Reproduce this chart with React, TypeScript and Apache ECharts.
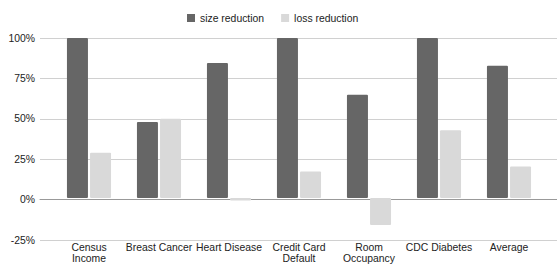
import React, { useEffect, useRef } from "react";
import * as echarts from "echarts";

const categories = ["Census Income", "Breast Cancer", "Heart Disease", "Credit Card Default", "Room Occupancy", "CDC Diabetes", "Average"];
const tickLabels = ["Census\nIncome", "Breast Cancer", "Heart Disease", "Credit Card\nDefault", "Room\nOccupancy", "CDC Diabetes", "Average"];
const sizeReduction = [100, 47.5, 84.4, 100, 64.5, 100, 82.7];
const lossReduction = [28.3, 49.6, -1.5, 16.5, -16.9, 42.3, 19.7];
const yTicks = [-25, 0, 25, 50, 75, 100];

const FONT = "'Liberation Sans', Arial, sans-serif";
const FS = 10.4;

export default function App() {
  const ref = useRef<HTMLDivElement>(null);
  useEffect(() => {
    const chart = echarts.init(ref.current!, null, { renderer: "svg" });
    chart.setOption({
      animation: false,
      textStyle: { fontFamily: FONT },
      legend: {
        top: 13,
        left: 187,
        padding: 0,
        itemWidth: 8,
        itemHeight: 8,
        itemGap: 17,
        icon: "rect",
        textStyle: { fontSize: FS, color: "#222", fontFamily: FONT },
        data: ["size reduction", "loss reduction"],
      },
      grid: [
        { left: 40, right: 0, top: 38, bottom: 24 },
        { left: 54, right: 13, top: 38, bottom: 24 },
      ],
      xAxis: [
        {
          type: "value",
          gridIndex: 0,
          min: 0,
          max: 1,
          axisLine: { show: true, onZero: true, lineStyle: { color: "#999999", width: 1 } },
          axisTick: { show: false },
          axisLabel: { show: false },
          splitLine: { show: false },
        },
        {
          type: "category",
          gridIndex: 1,
          data: categories,
          axisLine: { show: false },
          axisTick: { show: false },
          axisLabel: {
            interval: 0,
            margin: 4,
            fontSize: FS,
            lineHeight: 11,
            color: "#222",
            fontFamily: FONT,
            formatter: (_v: string, i: number) => tickLabels[i],
          },
        },
      ],
      yAxis: [
        {
          type: "value",
          gridIndex: 0,
          min: yTicks[0],
          max: yTicks[yTicks.length - 1],
          interval: 25,
          axisLine: { show: false },
          axisTick: { show: false },
          axisLabel: { margin: 5, fontSize: FS, color: "#222", fontFamily: FONT, formatter: "{value}%" },
          splitLine: { show: true, lineStyle: { color: "#d0d0d0", width: 1 } },
        },
        {
          type: "value",
          gridIndex: 1,
          min: yTicks[0],
          max: yTicks[yTicks.length - 1],
          interval: 25,
          show: false,
          splitLine: { show: false },
        },
      ],
      series: [
        {
          name: "size reduction",
          type: "bar",
          xAxisIndex: 1,
          yAxisIndex: 1,
          data: sizeReduction,
          barWidth: 21,
          barGap: "10%",
          itemStyle: { color: "#666666", borderRadius: 1 },
        },
        {
          name: "loss reduction",
          type: "bar",
          xAxisIndex: 1,
          yAxisIndex: 1,
          data: lossReduction,
          barWidth: 21,
          barGap: "10%",
          itemStyle: { color: "#d9d9d9", borderRadius: 1 },
        },
      ],
    });
    return () => chart.dispose();
  }, []);
  return <div ref={ref} style={{ width: 557, height: 264, position: "absolute", left: 0, top: 0 }} />;
}
